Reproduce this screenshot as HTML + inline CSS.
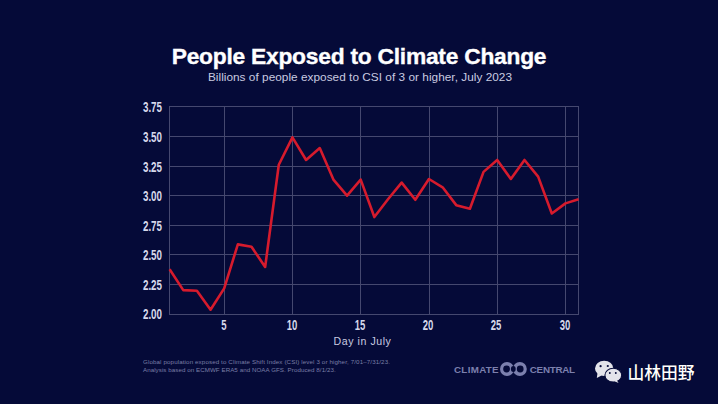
<!DOCTYPE html>
<html><head><meta charset="utf-8"><style>
html,body{margin:0;padding:0;}
body{width:718px;height:404px;background:#050a38;position:relative;overflow:hidden;font-family:"Liberation Sans",sans-serif;}
.title{position:absolute;left:0;width:718px;top:43px;text-align:center;color:#fff;font-weight:bold;font-size:22.8px;line-height:26px;letter-spacing:-0.25px;-webkit-text-stroke:0.35px #fff;}
.sub{position:absolute;left:1px;width:718px;top:70px;text-align:center;color:#c9cbe0;font-size:11.8px;line-height:14px;letter-spacing:0.03px;}
svg{position:absolute;left:0;top:0;}
.yl{position:absolute;left:128px;width:34px;text-align:right;color:#d6d8eb;font-weight:bold;font-size:14px;line-height:16px;transform:scaleX(0.7);transform-origin:right center;}
.xl{position:absolute;top:317px;width:20px;text-align:center;color:#d6d8eb;font-weight:bold;font-size:14px;line-height:16px;transform:scaleX(0.68);}
.xt{position:absolute;left:3.5px;width:718px;text-align:center;top:335px;color:#c9cbe0;font-size:10.6px;line-height:12px;letter-spacing:0.55px;}
.fn{position:absolute;left:143px;top:358.2px;color:#7a7ea6;font-size:6.2px;line-height:8.1px;letter-spacing:0.12px;}
.cc{position:absolute;top:364.6px;color:#7c80ae;font-size:9.8px;font-weight:bold;line-height:10px;letter-spacing:0.3px;}
.wx{position:absolute;left:627.4px;top:363.8px;color:#fff;font-family:"Liberation Sans","Noto Sans CJK SC",sans-serif;font-weight:500;font-size:16.8px;line-height:20px;text-shadow:0 0 1px rgba(0,0,0,0.6);}
</style></head><body>
<div class="title">People Exposed to Climate Change</div>
<div class="sub">Billions of people exposed to CSI of 3 or higher, July 2023</div>
<svg width="718" height="404" viewBox="0 0 718 404">
<g stroke="#45486f" stroke-width="1" fill="none" shape-rendering="crispEdges"><line x1="169.0" x2="579.0" y1="106.5" y2="106.5"/><line x1="169.0" x2="579.0" y1="136.5" y2="136.5"/><line x1="169.0" x2="579.0" y1="166.5" y2="166.5"/><line x1="169.0" x2="579.0" y1="195.5" y2="195.5"/><line x1="169.0" x2="579.0" y1="225.5" y2="225.5"/><line x1="169.0" x2="579.0" y1="254.5" y2="254.5"/><line x1="169.0" x2="579.0" y1="284.5" y2="284.5"/><line x1="169.0" x2="579.0" y1="314.5" y2="314.5"/><line y1="106.5" y2="314.5" x1="169.5" x2="169.5"/><line y1="106.5" y2="314.5" x1="224.5" x2="224.5"/><line y1="106.5" y2="314.5" x1="292.5" x2="292.5"/><line y1="106.5" y2="314.5" x1="360.5" x2="360.5"/><line y1="106.5" y2="314.5" x1="429" x2="429"/><line y1="106.5" y2="314.5" x1="497" x2="497"/><line y1="106.5" y2="314.5" x1="565.5" x2="565.5"/><line y1="106.5" y2="314.5" x1="578.5" x2="578.5"/></g>
<polyline points="169.60,269.33 183.25,290.13 196.90,290.73 210.55,309.75 224.20,288.35 237.85,244.37 251.50,246.75 265.15,266.96 278.80,164.74 292.45,137.40 306.10,159.99 319.75,148.10 333.40,179.60 347.05,195.64 360.70,179.60 374.35,217.04 388.00,199.21 401.65,182.57 415.30,199.80 428.95,179.00 442.60,187.32 456.25,205.15 469.90,208.72 483.55,171.87 497.20,159.99 510.85,179.00 524.50,159.99 538.15,176.63 551.80,213.47 565.45,203.37 578.60,199.21" fill="none" stroke="#d61b2d" stroke-width="2.6" stroke-linejoin="round"/>
<g fill="#7c80ae"><circle cx="507" cy="369" r="7"/><circle cx="519.8" cy="369" r="7"/></g>
<g fill="#050a38"><circle cx="506.6" cy="369" r="3.4"/><circle cx="520.2" cy="369" r="3.4"/><ellipse cx="513.3" cy="369" rx="2.4" ry="2.9"/></g>
<g fill="#e3e3ea"><ellipse cx="604.2" cy="368.4" rx="9.2" ry="7.6"/><path d="M597.5 373 L596.8 378 L601.5 375.5 Z"/></g>
<g fill="#e3e3ea" stroke="#050a38" stroke-width="1.1"><ellipse cx="613.3" cy="375.2" rx="8.4" ry="6.9"/></g>
<g fill="#e3e3ea"><path d="M616.5 379.8 L618.6 383 L614.5 381.2 Z"/></g>
<g fill="#050a38"><circle cx="600.6" cy="366.2" r="1.1"/><circle cx="607.8" cy="366" r="1.1"/><circle cx="609.8" cy="373" r="0.95"/><circle cx="615.8" cy="373" r="0.95"/></g>
</svg>
<div class="yl" style="top:98.5px">3.75</div><div class="yl" style="top:128.5px">3.50</div><div class="yl" style="top:158.5px">3.25</div><div class="yl" style="top:187.5px">3.00</div><div class="yl" style="top:217.5px">2.75</div><div class="yl" style="top:246.5px">2.50</div><div class="yl" style="top:276.5px">2.25</div><div class="yl" style="top:305.5px">2.00</div>
<div class="xl" style="left:213.8px">5</div><div class="xl" style="left:281.8px">10</div><div class="xl" style="left:349.8px">15</div><div class="xl" style="left:418.3px">20</div><div class="xl" style="left:486.3px">25</div><div class="xl" style="left:554.8px">30</div>
<div class="xt">Day in July</div>
<div class="fn">Global population exposed to Climate Shift Index (CSI) level 3 or higher, 7/01–7/31/23.<br><span style="letter-spacing:0.06px">Analysis based on ECMWF ERA5 and NOAA GFS. Produced 8/1/23.</span></div>
<div class="cc" style="left:454px">CLIMATE</div>
<div class="cc" style="left:529.8px;letter-spacing:-0.25px">CENTRAL</div>
<div class="wx">山林田野</div>
</body></html>
